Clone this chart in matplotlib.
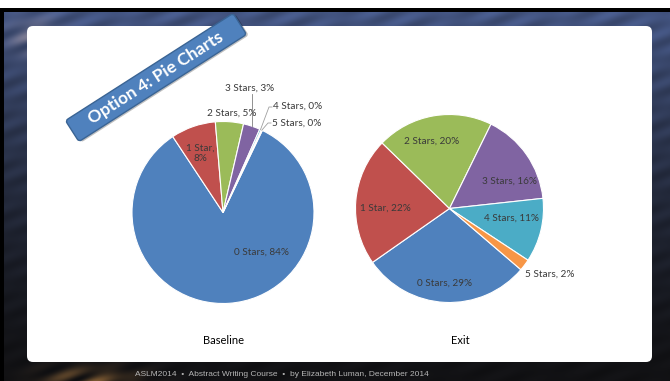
import numpy as np
import matplotlib.pyplot as plt
import matplotlib.patches as patches
import matplotlib.transforms as mtransforms

# data
categories = ["0 Stars", "1 Star", "2 Stars", "3 Stars", "4 Stars", "5 Stars"]
baseline_vals = [84, 8, 5, 3, 0.3, 0.2]
exit_vals = [29, 22, 20, 16, 11, 2]
pie_titles = ["Baseline", "Exit"]
banner_text = "Option 4: Pie Charts"
footer_text = "ASLM2014  \u2022  Abstract Writing Course  \u2022  by Elizabeth Luman, December 2014"

colors = ["#4F81BD", "#C0504D", "#9BBB59", "#8064A2", "#4BACC6", "#F79646"]
W, H = 670, 381
FONT = "Lato"
LABEL_C = "#3a3a3a"


def iy(y):
    # image row (top down) -> axes y (bottom up)
    return H - y


fig = plt.figure(figsize=(W / 100, H / 100), dpi=100)
ax = fig.add_axes([0, 0, 1, 1])

# background: dark bluish photo-like backdrop
yy, xx = np.mgrid[0:370, 0:W]
t = yy / 370.0
top = np.array([0.27, 0.34, 0.52])
bot = np.array([0.07, 0.07, 0.08])
img = top[None, None, :] * (1 - t[..., None]) ** 1.5 + bot[None, None, :] * (1 - (1 - t[..., None]) ** 1.5)
streak = 0.5 + 0.5 * np.sin(xx * 0.13 + yy * 0.31) * np.sin(xx * 0.029 - yy * 0.07)
img = img * (0.85 + 0.25 * streak[..., None])
warm = np.exp(-(((xx - 90) / 45.0) ** 2 + ((yy - 370) / 14.0) ** 2))
warm2 = np.exp(-(((xx - 35) / 25.0) ** 2 + ((yy - 25) / 18.0) ** 2))
img = img + (warm + 0.6 * warm2)[..., None] * np.array([0.45, 0.3, 0.12]) * streak[..., None]
img = np.clip(img, 0, 1)
ax.imshow(img, extent=(0, W, 0, H - 11), origin="upper", aspect="auto", zorder=0)

ax.add_patch(patches.Rectangle((0, iy(8)), W, 8, fc="white", ec="none", zorder=1))
ax.add_patch(patches.Rectangle((0, iy(12)), W, 4, fc="black", ec="none", zorder=1))
ax.add_patch(patches.Rectangle((0, 0), 4, iy(8), fc="black", ec="none", zorder=1))

# white slide panel
ax.add_patch(patches.FancyBboxPatch((27, iy(362)), 625, 336,
                                    boxstyle="round,pad=0,rounding_size=6",
                                    fc="white", ec="none", zorder=2))

# pies
pie_specs = [
    (baseline_vals, (223, iy(212.5)), 91, 64.4),
    (exit_vals, (449.5, iy(208.5)), 94, -40.6),
]
all_wedges = []
for vals, center, radius, start in pie_specs:
    wedges, _ = ax.pie(vals, colors=colors, startangle=start, counterclock=False,
                       center=center, radius=radius, frame=True,
                       wedgeprops=dict(edgecolor="white", linewidth=0.8))
    for w in wedges:
        w.set_zorder(3)
    all_wedges.append(wedges)


def pct_labels(vals):
    total = sum(vals)
    return [f"{c}, {round(100 * v / total)}%" for c, v in zip(categories, vals)]


# baseline labels
base_labels = pct_labels(baseline_vals)
base_labels[1] = base_labels[1].replace(", ", ",\n")
base_pos = [(262, 252, "center"), (200, 153, "center"), (232, 113, "center"),
            (250, 88, "center"), (273, 106, "left"), (272, 123, "left")]
for lab, (x, y, ha) in zip(base_labels, base_pos):
    ax.text(x, iy(y), lab, ha=ha, va="center", fontsize=7.2, family=FONT,
            color=LABEL_C, zorder=5, linespacing=1.15)


def rim_point(wedge):
    mid = np.deg2rad((wedge.theta1 + wedge.theta2) / 2)
    cx, cy = wedge.center
    return cx + wedge.r * np.cos(mid), cy + wedge.r * np.sin(mid)


bw = all_wedges[0]
px, py = rim_point(bw[3])
ax.plot([px, px], [iy(94), py], color="#808080", lw=0.6, zorder=4)
for idx, (lx, ly) in zip([4, 5], [(272, 107), (271, 123)]):
    px, py = rim_point(bw[idx])
    ax.plot([lx, lx - 3, px], [iy(ly), iy(ly), py], color="#a0a0a0", lw=0.6, zorder=4)

# exit labels
exit_labels = pct_labels(exit_vals)
exit_pos = [(445, 283), (385, 208), (432, 141), (510, 181), (512, 218), (550, 274)]
for lab, (x, y) in zip(exit_labels, exit_pos):
    ax.text(x, iy(y), lab, ha="center", va="center", fontsize=7.2, family=FONT,
            color=LABEL_C, zorder=5)

# titles
for title, x in zip(pie_titles, [223, 460]):
    ax.text(x, iy(341), title, ha="center", va="center", fontsize=8,
            family=FONT, color="black", zorder=5)

# banner
bcx, bcy = 156, iy(77.5)
blen, bwid, bang = 199, 25, 32.6
rot = mtransforms.Affine2D().rotate_deg_around(bcx, bcy, bang)
shadow = patches.FancyBboxPatch((bcx - blen / 2 + 1.5, bcy - bwid / 2 - 2), blen, bwid,
                                boxstyle="round,pad=0,rounding_size=3",
                                fc="#000000", ec="none", alpha=0.25,
                                transform=rot + ax.transData, zorder=6)
ax.add_patch(shadow)
banner = patches.FancyBboxPatch((bcx - blen / 2, bcy - bwid / 2), blen, bwid,
                                boxstyle="round,pad=0,rounding_size=3",
                                fc="#4F81BD", ec="#3A6494", lw=1,
                                transform=rot + ax.transData, zorder=7)
ax.add_patch(banner)
ax.text(bcx, bcy - 0.5, banner_text, rotation=bang, rotation_mode="anchor",
        ha="center", va="center", fontsize=12.5, fontweight="bold",
        family=FONT, color="white", zorder=8)

# footer
ax.text(135, iy(374), footer_text, ha="left", va="center", fontsize=6,
        family="Liberation Sans", color="#b5b5b5", zorder=5)

ax.set_xlim(0, W)
ax.set_ylim(0, H)
ax.set_aspect("auto")
ax.axis("off")
fig.savefig("out.png", dpi=100)
